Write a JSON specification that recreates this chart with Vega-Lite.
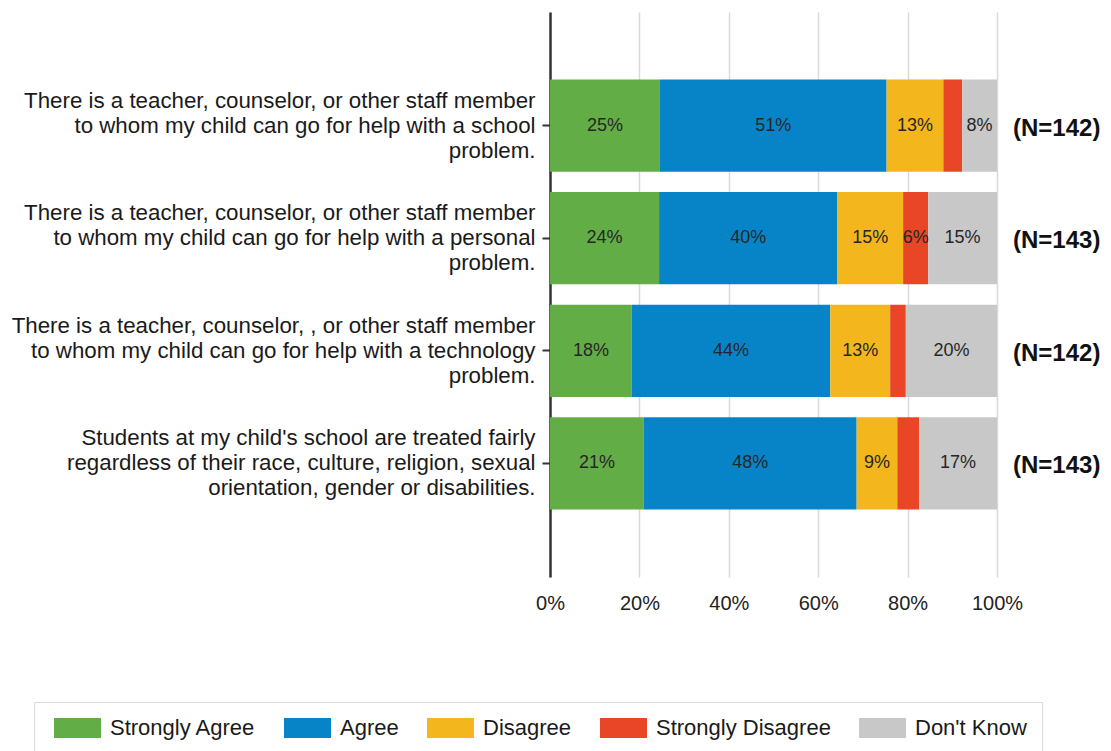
{
  "$schema": "https://vega.github.io/schema/vega-lite/v6.json",
  "width": 447,
  "height": 565,
  "autosize": {"type": "none"},
  "padding": {"left": 550, "top": 12, "right": 114, "bottom": 174},
  "background": "white",
  "config": {"view": {"stroke": null}, "font": "Liberation Sans"},
  "datasets": {
    "qs": [
      {"q": "There is a teacher, counselor, or other staff member|to whom my child can go for help with a school|problem.", "nlab": "(N=142)"},
      {"q": "There is a teacher, counselor, or other staff member|to whom my child can go for help with a personal|problem.", "nlab": "(N=143)"},
      {"q": "There is a teacher, counselor, , or other staff member|to whom my child can go for help with a technology|problem.", "nlab": "(N=142)"},
      {"q": "Students at my child's school are treated fairly|regardless of their race, culture, religion, sexual|orientation, gender or disabilities.", "nlab": "(N=143)"}
    ],
    "resp": [
      {"q": "There is a teacher, counselor, or other staff member|to whom my child can go for help with a school|problem.", "resp": "Strongly Agree", "pct": 0.246},
      {"q": "There is a teacher, counselor, or other staff member|to whom my child can go for help with a school|problem.", "resp": "Agree", "pct": 0.507},
      {"q": "There is a teacher, counselor, or other staff member|to whom my child can go for help with a school|problem.", "resp": "Disagree", "pct": 0.127},
      {"q": "There is a teacher, counselor, or other staff member|to whom my child can go for help with a school|problem.", "resp": "Strongly Disagree", "pct": 0.042},
      {"q": "There is a teacher, counselor, or other staff member|to whom my child can go for help with a school|problem.", "resp": "Don't Know", "pct": 0.078},
      {"q": "There is a teacher, counselor, or other staff member|to whom my child can go for help with a personal|problem.", "resp": "Strongly Agree", "pct": 0.244},
      {"q": "There is a teacher, counselor, or other staff member|to whom my child can go for help with a personal|problem.", "resp": "Agree", "pct": 0.399},
      {"q": "There is a teacher, counselor, or other staff member|to whom my child can go for help with a personal|problem.", "resp": "Disagree", "pct": 0.147},
      {"q": "There is a teacher, counselor, or other staff member|to whom my child can go for help with a personal|problem.", "resp": "Strongly Disagree", "pct": 0.056},
      {"q": "There is a teacher, counselor, or other staff member|to whom my child can go for help with a personal|problem.", "resp": "Don't Know", "pct": 0.154},
      {"q": "There is a teacher, counselor, , or other staff member|to whom my child can go for help with a technology|problem.", "resp": "Strongly Agree", "pct": 0.183},
      {"q": "There is a teacher, counselor, , or other staff member|to whom my child can go for help with a technology|problem.", "resp": "Agree", "pct": 0.444},
      {"q": "There is a teacher, counselor, , or other staff member|to whom my child can go for help with a technology|problem.", "resp": "Disagree", "pct": 0.134},
      {"q": "There is a teacher, counselor, , or other staff member|to whom my child can go for help with a technology|problem.", "resp": "Strongly Disagree", "pct": 0.035},
      {"q": "There is a teacher, counselor, , or other staff member|to whom my child can go for help with a technology|problem.", "resp": "Don't Know", "pct": 0.204},
      {"q": "Students at my child's school are treated fairly|regardless of their race, culture, religion, sexual|orientation, gender or disabilities.", "resp": "Strongly Agree", "pct": 0.210},
      {"q": "Students at my child's school are treated fairly|regardless of their race, culture, religion, sexual|orientation, gender or disabilities.", "resp": "Agree", "pct": 0.476},
      {"q": "Students at my child's school are treated fairly|regardless of their race, culture, religion, sexual|orientation, gender or disabilities.", "resp": "Disagree", "pct": 0.091},
      {"q": "Students at my child's school are treated fairly|regardless of their race, culture, religion, sexual|orientation, gender or disabilities.", "resp": "Strongly Disagree", "pct": 0.049},
      {"q": "Students at my child's school are treated fairly|regardless of their race, culture, religion, sexual|orientation, gender or disabilities.", "resp": "Don't Know", "pct": 0.174}
    ]
  },
  "layer": [
    {
      "data": {"name": "resp"},
      "transform": [
        {"calculate": "indexof(['Strongly Agree','Agree','Disagree','Strongly Disagree','Don\\'t Know'], datum.resp)", "as": "ord"}
      ],
      "mark": {"type": "bar"},
      "encoding": {
        "y": {
          "field": "q", "type": "nominal", "sort": null, "title": null,
          "scale": {"paddingInner": 0.18, "paddingOuter": 0.6},
          "axis": {
            "labelExpr": "split(datum.label, '|')",
            "labelFontSize": 22.3, "labelLineHeight": 25, "labelColor": "#1a1a1a",
            "labelPadding": 7, "labelLimit": 700, "labelOffset": -25,
            "tickSize": 8, "tickColor": "#333333", "tickWidth": 2,
            "domainColor": "#333333", "domainWidth": 2.5, "grid": false
          }
        },
        "x": {
          "field": "pct", "type": "quantitative", "stack": "zero", "title": null,
          "scale": {"domain": [0, 1]},
          "axis": {
            "values": [0, 0.2, 0.4, 0.6, 0.8, 1], "format": ".0%",
            "grid": true, "gridColor": "#d9d9d9", "gridWidth": 1.5,
            "domain": false, "ticks": false, "labelFlush": false,
            "labelFontSize": 20, "labelColor": "#222222", "labelPadding": 16
          }
        },
        "color": {
          "field": "resp", "type": "nominal",
          "scale": {
            "domain": ["Strongly Agree", "Agree", "Disagree", "Strongly Disagree", "Don't Know"],
            "range": ["#63ad46", "#0784c8", "#f3b61d", "#e84627", "#c8c8c8"]
          },
          "legend": {
            "orient": "none", "legendX": -516, "legendY": 690,
            "direction": "horizontal", "columns": 5, "title": null,
            "symbolType": "M-0.6,-1H4.1V1H-0.6Z", "symbolSize": 400,
            "symbolStrokeWidth": 0,
            "labelFontSize": 22, "labelColor": "#1a1a1a", "labelOffset": 39,
            "labelLimit": 400, "columnPadding": 23, "padding": 15,
            "strokeColor": "#dcdcdc"
          }
        },
        "order": {"field": "ord", "type": "quantitative"}
      }
    },
    {
      "data": {"name": "resp"},
      "transform": [
        {"calculate": "indexof(['Strongly Agree','Agree','Disagree','Strongly Disagree','Don\\'t Know'], datum.resp)", "as": "ord"}
      ],
      "mark": {"type": "text", "fontSize": 18, "color": "#262626"},
      "encoding": {
        "y": {"field": "q", "type": "nominal", "sort": null},
        "x": {"field": "pct", "type": "quantitative", "stack": "zero", "bandPosition": 0.5},
        "detail": {"field": "resp"},
        "text": {"field": "pct", "type": "quantitative", "format": ".0%"},
        "opacity": {"condition": {"test": "datum.pct < 0.05", "value": 0}, "value": 1},
        "order": {"field": "ord", "type": "quantitative"}
      }
    },
    {
      "data": {"name": "qs"},
      "mark": {"type": "text", "align": "left", "dx": 16, "dy": 3, "fontSize": 24, "fontWeight": "bold", "color": "#111111"},
      "encoding": {
        "y": {"field": "q", "type": "nominal", "sort": null},
        "x": {"datum": 1},
        "text": {"field": "nlab"}
      }
    }
  ]
}
